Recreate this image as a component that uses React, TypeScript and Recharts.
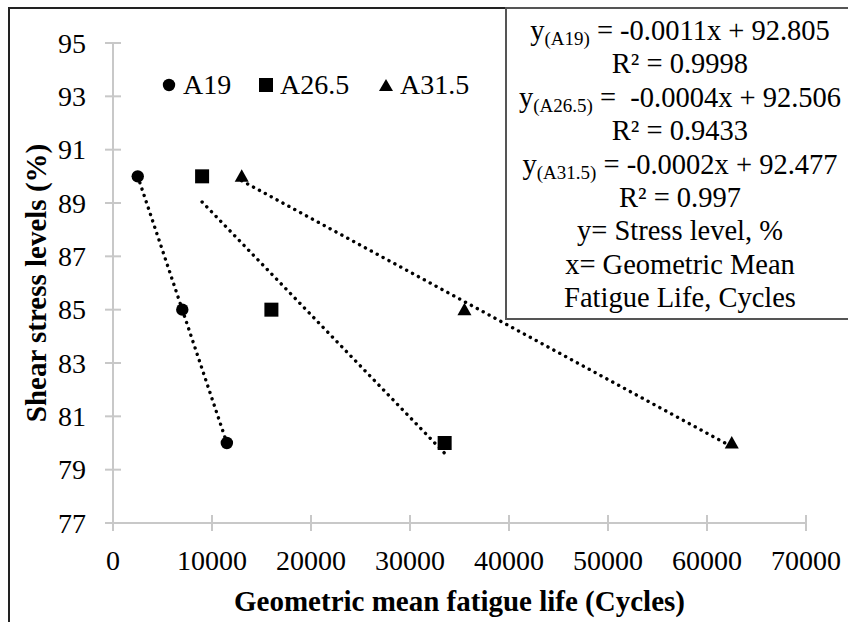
import { ScatterChart, Scatter, XAxis, YAxis, Label } from "recharts";

const seriesNames = ["A19", "A26.5", "A31.5"];
const stressLevels = [90, 85, 80];
const lifeA19 = [2500, 7000, 11500];
const lifeA265 = [9000, 16000, 33500];
const lifeA315 = [13000, 35500, 62500];

const xTicks = [0, 10000, 20000, 30000, 40000, 50000, 60000, 70000];
const yTicks = [77, 79, 81, 83, 85, 87, 89, 91, 93, 95];

const boxLines = [
  { sub: "(A19)", text: " = -0.0011x + 92.805" },
  { text: "R² = 0.9998" },
  { sub: "(A26.5)", text: " =  -0.0004x + 92.506" },
  { text: "R² = 0.9433" },
  { sub: "(A31.5)", text: " = -0.0002x + 92.477" },
  { text: "R² = 0.997" },
  { text: "y= Stress level, %" },
  { text: "x= Geometric Mean" },
  { text: "Fatigue Life, Cycles" },
];

const FONT = "Liberation Serif";
const AXIS_GRAY = "#c8c8c8";

const toPoints = (xs: number[]) => xs.map((x, i) => ({ x, y: stressLevels[i] }));

// least squares line through the points, drawn between first and last x (like Excel's trendline)
const trend = (xs: number[]) => {
  const ys = stressLevels;
  const n = xs.length;
  const mx = xs.reduce((a, b) => a + b, 0) / n;
  const my = ys.reduce((a, b) => a + b, 0) / n;
  let sxy = 0;
  let sxx = 0;
  xs.forEach((x, i) => {
    sxy += (x - mx) * (ys[i] - my);
    sxx += (x - mx) * (x - mx);
  });
  const slope = sxy / sxx;
  const icpt = my - slope * mx;
  const lo = Math.min(...xs);
  const hi = Math.max(...xs);
  return [
    { x: lo, y: icpt + slope * lo },
    { x: hi, y: icpt + slope * hi },
  ];
};

const Dot = ({ cx, cy }: any) => <circle cx={cx} cy={cy} r={6.2} fill="#000" />;
const Square = ({ cx, cy }: any) => <rect x={cx - 7} y={cy - 7} width={14} height={14} fill="#000" />;
const Tri = ({ cx, cy }: any) => (
  <polygon points={`${cx},${cy - 7} ${cx + 7},${cy + 5.5} ${cx - 7},${cy + 5.5}`} fill="#000" />
);
const NoShape = () => <g />;

const YTick = ({ x, y, payload }: any) => (
  <g>
    <line x1={x - 8} x2={x + 8} y1={y} y2={y} stroke={AXIS_GRAY} strokeWidth={2} />
    <text x={x - 27} y={y} textAnchor="end" dominantBaseline="central" style={{ fontFamily: FONT }} fontSize={28} fill="#000">
      {payload.value}
    </text>
  </g>
);

const XTick = ({ x, y, payload }: any) => (
  <g>
    <line x1={x} x2={x} y1={y - 8} y2={y + 8} stroke={AXIS_GRAY} strokeWidth={2} />
    <text x={x} y={y + 37} textAnchor="middle" dominantBaseline="central" style={{ fontFamily: FONT }} fontSize={28} fill="#000">
      {payload.value}
    </text>
  </g>
);

const lineStyle = { stroke: "#000", strokeWidth: 3.4, strokeDasharray: "0.1 6.6", strokeLinecap: "round" };

const legendPos = [169, 266, 386];

const LegendMarker = ({ kind }: { kind: number }) => (
  <svg width={16} height={16} style={{ position: "absolute", left: -8, top: -8 }}>
    {kind === 0 && <circle cx={8} cy={8} r={6.2} fill="#000" />}
    {kind === 1 && <rect x={1} y={1} width={14} height={14} fill="#000" />}
    {kind === 2 && <polygon points="8,2 15,14 1,14" fill="#000" />}
  </svg>
);

export default function App() {
  return (
    <div style={{ position: "absolute", left: 0, top: 0, width: 848, height: 622, overflow: "hidden", background: "#fff", fontFamily: FONT }}>
      <div style={{ position: "absolute", left: 8, top: 7, width: 900, height: 700, borderLeft: "2px solid #222", borderTop: "2px solid #222" }} />
      <div style={{ position: "absolute", left: 0, top: 0, fontFamily: FONT }}>
        <ScatterChart width={848} height={622} margin={{ top: 43, right: 42, bottom: 0, left: 0 }} style={{ fontFamily: FONT }}>
          <XAxis
            type="number"
            dataKey="x"
            domain={[0, 70000]}
            ticks={xTicks}
            interval={0}
            height={99}
            axisLine={{ stroke: AXIS_GRAY, strokeWidth: 2 }}
            tickLine={false}
            tickSize={0}
            tickMargin={0}
            tick={<XTick />}
          >
            <Label
              value="Geometric mean fatigue life (Cycles)"
              position="insideBottom"
              offset={11}
              style={{ fontFamily: FONT, fontSize: 29, fontWeight: "bold", fill: "#000" }}
            />
          </XAxis>
          <YAxis
            type="number"
            dataKey="y"
            domain={[77, 95]}
            ticks={yTicks}
            interval={0}
            width={113}
            axisLine={{ stroke: AXIS_GRAY, strokeWidth: 2 }}
            tickLine={false}
            tickSize={0}
            tickMargin={0}
            tick={<YTick />}
          >
            <Label
              value="Shear stress levels (%)"
              angle={-90}
              position="insideLeft"
              offset={36}
              style={{ textAnchor: "middle", fontFamily: FONT, fontSize: 29, fontWeight: "bold", fill: "#000" }}
            />
          </YAxis>
          <Scatter data={trend(lifeA19)} line={lineStyle} shape={NoShape} isAnimationActive={false} />
          <Scatter data={trend(lifeA265)} line={lineStyle} shape={NoShape} isAnimationActive={false} />
          <Scatter data={trend(lifeA315)} line={lineStyle} shape={NoShape} isAnimationActive={false} />
          <Scatter name={seriesNames[0]} data={toPoints(lifeA19)} shape={Dot} isAnimationActive={false} />
          <Scatter name={seriesNames[1]} data={toPoints(lifeA265)} shape={Square} isAnimationActive={false} />
          <Scatter name={seriesNames[2]} data={toPoints(lifeA315)} shape={Tri} isAnimationActive={false} />
        </ScatterChart>
      </div>
      {seriesNames.map((name, i) => (
        <div key={name} style={{ position: "absolute", left: legendPos[i], top: 85 }}>
          <LegendMarker kind={i} />
          <span style={{ position: "absolute", left: 14, top: -17, fontSize: 28, lineHeight: "34px", whiteSpace: "nowrap", fontFamily: FONT }}>{name}</span>
        </div>
      ))}
      <div
        style={{
          position: "absolute",
          left: 505,
          top: 7,
          width: 360,
          height: 313,
          border: "2px solid #555",
          background: "#fff",
          boxSizing: "border-box",
        }}
      >
        <div style={{ position: "absolute", left: 0, top: 5, width: 346, textAlign: "center", fontSize: 28.5, lineHeight: "33.4px", fontFamily: FONT }}>
          {boxLines.map((l, i) => (
            <div key={i} style={{ whiteSpace: "pre", height: 33.4 }}>
              {l.sub ? (
                <>
                  y<span style={{ fontSize: 19, lineHeight: 0, verticalAlign: "-5px" }}>{l.sub}</span>
                </>
              ) : null}
              {l.text}
            </div>
          ))}
        </div>
      </div>
    </div>
  );
}
